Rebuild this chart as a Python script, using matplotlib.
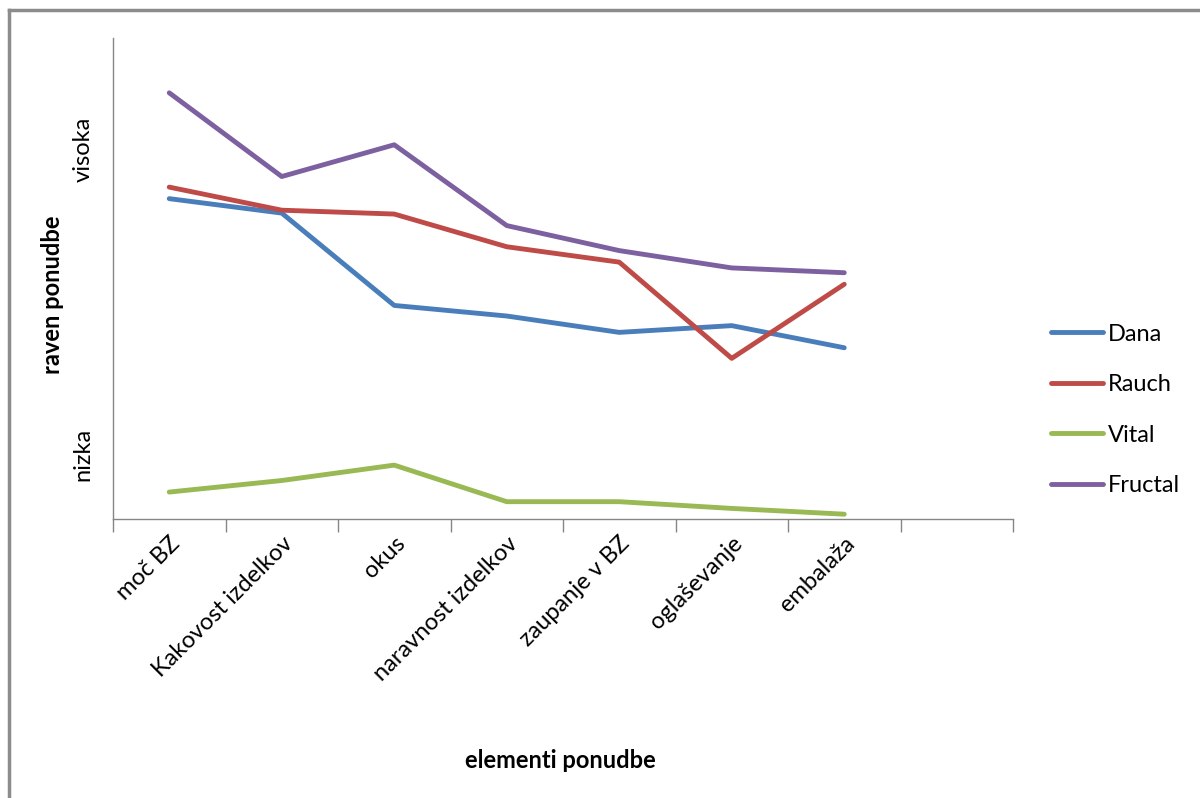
import matplotlib.pyplot as plt
from matplotlib.lines import Line2D

plt.rcParams['font.family'] = ['Lato', 'DejaVu Sans']

categories = ['moč BZ', 'Kakovost izdelkov', 'okus', 'naravnost izdelkov',
              'zaupanje v BZ', 'oglaševanje', 'embalaža', '']
dana = [3.33, 3.18, 2.22, 2.11, 1.94, 2.01, 1.78]
rauch = [3.45, 3.21, 3.17, 2.83, 2.67, 1.67, 2.44]
vital = [0.28, 0.40, 0.56, 0.18, 0.18, 0.11, 0.05]
fructal = [4.43, 3.56, 3.89, 3.05, 2.79, 2.61, 2.56]
series = {'Dana': dana, 'Rauch': rauch, 'Vital': vital, 'Fructal': fructal}
colors = {'Dana': '#4a7ebb', 'Rauch': '#be4b48', 'Vital': '#98b954', 'Fructal': '#7d60a0'}
level_pos = [0.67, 3.84]
level_labels = ['nizka', 'visoka']


def main():
    fig = plt.figure(figsize=(12, 7.98), dpi=100)
    ax = fig.add_axes([113 / 1200, 1 - 519 / 798, 900 / 1200, 481 / 798])

    x = list(range(len(dana)))
    for name, vals in series.items():
        ax.plot(x, vals, color=colors[name], linewidth=3.5, label=name,
                solid_capstyle='round', solid_joinstyle='round')

    ax.set_xlim(-0.5, len(categories) - 0.5)
    ax.set_ylim(0, 5)

    # category labels centred, tick marks at the boundaries
    ax.set_xticks(range(len(categories)))
    ax.set_xticklabels(categories, rotation=45, ha='right', rotation_mode='anchor',
                       fontsize=17)
    ax.tick_params(axis='x', which='major', length=0, pad=10)
    ax.set_xticks([i - 0.5 for i in range(len(categories) + 1)], minor=True)
    ax.tick_params(axis='x', which='minor', length=9, color='#868686', width=1)

    ax.set_yticks(level_pos)
    ax.set_yticklabels(level_labels, rotation=90, va='center', fontsize=17)
    ax.tick_params(axis='y', length=0, pad=14)

    for side in ['top', 'right']:
        ax.spines[side].set_visible(False)
    for side in ['left', 'bottom']:
        ax.spines[side].set_color('#868686')
        ax.spines[side].set_linewidth(1)

    fig.text(53 / 1200, 1 - 295 / 798, 'raven ponudbe', fontsize=17,
             fontweight='bold', rotation=90, ha='center', va='center')
    fig.text(560 / 1200, 1 - 760 / 798, 'elementi ponudbe', fontsize=17,
             fontweight='bold', ha='center', va='center')

    ax.legend(loc='center left', bbox_to_anchor=(1030 / 1200, 1 - 410 / 798),
              bbox_transform=fig.transFigure, frameon=False, fontsize=17,
              handlelength=2.2, handletextpad=0.2, labelspacing=1.25)

    # outer chart border (only top and left visible)
    fig.add_artist(Line2D([9 / 1200, 9 / 1200], [0, 1 - 10 / 798],
                          transform=fig.transFigure, color='#8c8c8c', linewidth=2.5))
    fig.add_artist(Line2D([9 / 1200, 1], [1 - 10 / 798, 1 - 10 / 798],
                          transform=fig.transFigure, color='#8c8c8c', linewidth=2.5))

    fig.savefig('out.png', dpi=100)


if __name__ == "__main__":
    main()
